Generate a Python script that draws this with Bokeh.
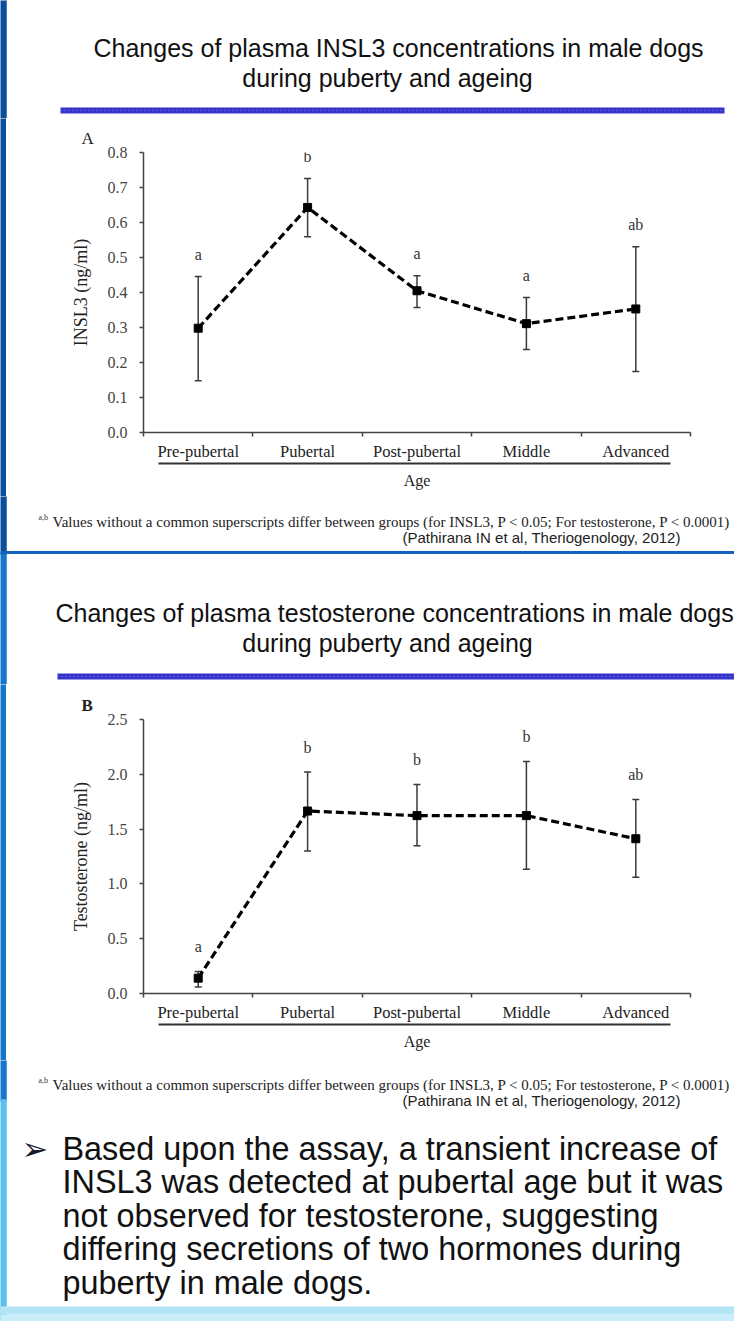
from bokeh.plotting import figure
from bokeh.models import (ColumnDataSource, Range1d, FixedTicker, LinearAxis, Whisker,
                          TeeHead, NumeralTickFormatter)
from bokeh.layouts import column, row
from bokeh.core.properties import value
from bokeh.embed import file_html
from bokeh.resources import INLINE

# ---------------- data ----------------
categories = ["Pre-pubertal", "Pubertal", "Post-pubertal", "Middle", "Advanced"]

insl3_mean = [0.298, 0.643, 0.405, 0.311, 0.353]
insl3_upper = [0.446, 0.726, 0.448, 0.386, 0.531]
insl3_lower = [0.148, 0.559, 0.357, 0.237, 0.174]
insl3_letters = ["a", "b", "a", "a", "ab"]
insl3_ticks = [0.0, 0.1, 0.2, 0.3, 0.4, 0.5, 0.6, 0.7, 0.8]

testo_mean = [0.14, 1.665, 1.623, 1.623, 1.412]
testo_upper = [0.20, 2.02, 1.906, 2.117, 1.769]
testo_lower = [0.06, 1.30, 1.348, 1.134, 1.061]
testo_letters = ["a", "b", "b", "b", "ab"]
testo_ticks = [0.0, 0.5, 1.0, 1.5, 2.0, 2.5]

title_a = ["Changes of plasma INSL3 concentrations in male dogs", "during puberty and ageing"]
title_b = ["Changes of plasma testosterone concentrations in male dogs", "during puberty and ageing"]
footnote = "Values without a common superscripts differ between groups (for INSL3, P < 0.05; For testosterone, P < 0.0001)"
citation = "(Pathirana IN et al, Theriogenology, 2012)"
bullet_lines = ["Based upon the assay, a transient increase of",
                "INSL3 was detected at pubertal age but it was",
                "not observed for testosterone, suggesting",
                "differing secretions of two hormones during",
                "puberty in male dogs."]

W = 734
STRIPE = 6
SERIF = "Liberation Serif"
SANS = "Liberation Sans"
# left decorative stripe of the slide: (page y from, page y to, colour)
stripe_parts = [(0, 553, "#0b4e9c"), (553, 1100, "#1576cb"),
                (1100, 1321, "#5cc0ee")]


def canvas(w, h, bg="white"):
    p = figure(width=w, height=h, x_range=Range1d(0, w), y_range=Range1d(h, 0),
               output_backend="svg", toolbar_location=None, min_border=0,
               x_axis_type=None, y_axis_type=None, frame_align=False)
    p.outline_line_color = None
    p.background_fill_color = bg
    p.border_fill_color = bg
    return p


def stripe(p, top):
    for y0, y1, c in stripe_parts:
        p.quad(left=[-1], right=[STRIPE], top=[y0 - top - 1], bottom=[y1 - top + 1],
               fill_color=c, line_color=c, line_width=0.5)


def txt(p, x, y, s, size, font=SANS, align="left", color="#111111", style="normal"):
    p.text(x=[x], y=[y], text=[s], text_font=value(font), text_font_size=value(f"{size}px"),
           text_align=align, text_baseline="middle", text_color=color, text_font_style=style)


def blue_bar(p, x0, x1, y0, y1):
    p.quad(left=[x0], right=[x1], top=[y0], bottom=[y1], fill_color="#3535cc", line_color=None)
    p.segment(x0=[x0], x1=[x1], y0=[(y0 + y1) / 2], y1=[(y0 + y1) / 2],
              line_color="#8080ea", line_width=1, line_dash="1 3")


def chart(height, btop, bbottom, mean, upper, lower, letters, yticks, ylabel, letter_off,
          panel, panel_style, panel_standoff):
    n = len(categories)
    xs = [i + 0.5 for i in range(n)]
    p = figure(width=W - STRIPE, height=height, x_range=Range1d(0, n),
               y_range=Range1d(yticks[0], yticks[-1]),
               output_backend="svg", toolbar_location=None, title=panel,
               min_border_left=143 - STRIPE, min_border_right=44,
               min_border_top=btop, min_border_bottom=bbottom,
               x_axis_type=None, y_axis_type=None, frame_align=False)
    p.outline_line_color = None
    p.title.align = "left"
    p.title.offset = -62
    p.title.standoff = panel_standoff
    p.title.text_font = SERIF
    p.title.text_font_size = "17px"
    p.title.text_font_style = panel_style
    p.title.text_color = "#222222"

    src = ColumnDataSource(dict(x=xs, mean=mean, upper=upper, lower=lower, letter=letters))
    p.add_layout(Whisker(source=src, base="x", upper="upper", lower="lower",
                         line_color="#3a3a3a", line_width=1.5,
                         upper_head=TeeHead(size=7, line_color="#3a3a3a", line_width=1.5),
                         lower_head=TeeHead(size=7, line_color="#3a3a3a", line_width=1.5)))
    p.line("x", "mean", source=src, line_color="black", line_width=3.2, line_dash="8 4")
    p.scatter("x", "mean", source=src, marker="square", size=8, color="black")
    p.text("x", "upper", text="letter", source=src, y_offset=letter_off,
           text_align="center", text_baseline="middle",
           text_font=value(SERIF), text_font_size=value("16px"), text_color="#333333")

    yax = LinearAxis(ticker=FixedTicker(ticks=yticks),
                     formatter=NumeralTickFormatter(format="0.0"),
                     axis_label=ylabel)
    yax.axis_line_color = "#444444"
    yax.axis_line_width = 1.5
    yax.major_tick_line_color = "#444444"
    yax.major_tick_line_width = 1.5
    yax.major_tick_out = 4
    yax.major_tick_in = 0
    yax.minor_tick_line_color = None
    yax.major_label_standoff = 12
    yax.major_label_text_font = SERIF
    yax.major_label_text_font_size = "16px"
    yax.major_label_text_color = "#444444"
    yax.axis_label_text_font = SERIF
    yax.axis_label_text_font_size = "18px"
    yax.axis_label_text_font_style = "normal"
    yax.axis_label_text_color = "#222222"
    yax.axis_label_standoff = 14
    p.add_layout(yax, "left")

    xax = LinearAxis(ticker=FixedTicker(ticks=xs, minor_ticks=list(range(n + 1))),
                     major_label_overrides={x: c for x, c in zip(xs, categories)})
    xax.axis_line_color = "#444444"
    xax.axis_line_width = 1.5
    xax.major_tick_line_color = None
    xax.major_tick_out = 0
    xax.major_tick_in = 0
    xax.minor_tick_line_color = "#444444"
    xax.minor_tick_line_width = 1.5
    xax.minor_tick_out = 4
    xax.minor_tick_in = 0
    xax.major_label_standoff = 5
    xax.major_label_text_font = SERIF
    xax.major_label_text_font_size = "16.5px"
    xax.major_label_text_color = "#222222"
    p.add_layout(xax, "below")

    uax = LinearAxis(ticker=FixedTicker(ticks=[]), bounds=(0.14, n - 0.18), axis_label="Age")
    uax.axis_line_color = "#333333"
    uax.axis_line_width = 2
    uax.major_tick_line_color = None
    uax.minor_tick_line_color = None
    uax.major_tick_out = 0
    uax.axis_label_standoff = 8
    uax.axis_label_text_font = SERIF
    uax.axis_label_text_font_size = "16px"
    uax.axis_label_text_font_style = "normal"
    uax.axis_label_text_color = "#222222"
    p.add_layout(uax, "below")
    return p


# ---------- header A (page y 0-118) ----------
h1 = canvas(W, 118)
stripe(h1, 0)
txt(h1, 398, 47, title_a[0], 25, align="center")
txt(h1, 387, 77, title_a[1], 25, align="center")
blue_bar(h1, 60, 724, 107, 113)

# ---------- chart A (page y 118-496) ----------
sa = canvas(STRIPE, 378, bg="#0b4e9c")
pa = chart(378, 34, 64, insl3_mean, insl3_upper, insl3_lower, insl3_letters,
           insl3_ticks, "INSL3 (ng/ml)", -22, "A", "normal", 9)

# ---------- middle block (page y 496-684) ----------
h2 = canvas(W, 188)
stripe(h2, 496)
txt(h2, 38, 21, "a,b", 8, font=SERIF, color="#333333")
txt(h2, 52, 25, footnote, 15, font=SERIF, color="#222222")
txt(h2, 402, 41, citation, 15, color="#222222")
h2.segment(x0=[0], x1=[W], y0=[56], y1=[56], line_color="#1462c0", line_width=3)
txt(h2, 55, 116, title_b[0], 25)
txt(h2, 387, 146, title_b[1], 25, align="center")
blue_bar(h2, 57, W, 177, 183)

# ---------- chart B (page y 684-1060) ----------
sb = canvas(STRIPE, 376, bg="#1576cb")
pb = chart(376, 35, 67, testo_mean, testo_upper, testo_lower, testo_letters,
           testo_ticks, "Testosterone (ng/ml)", -25, "B", "bold", 10)

# ---------- footer (page y 1060-1321) ----------
h3 = canvas(W, 261)
stripe(h3, 1060)
txt(h3, 38, 20, "a,b", 8, font=SERIF, color="#333333")
txt(h3, 52, 24, footnote, 15, font=SERIF, color="#222222")
txt(h3, 402, 40, citation, 15, color="#222222")
for i, line in enumerate(bullet_lines):
    txt(h3, 62, 88 + i * 33.5, line, 32.4, color="#111111")
txt(h3, 21, 88, "\u27a2", 32, font="DejaVu Sans", color="#1a1a2e")
h3.quad(left=[0], right=[W], top=[246], bottom=[254], fill_color="#b3e5f5", line_color=None)
h3.quad(left=[0], right=[W], top=[254], bottom=[261], fill_color="#c9edf9", line_color=None)

layout = column(h1, row(sa, pa, spacing=0), h2, row(sb, pb, spacing=0), h3, spacing=0)
open("out.html", "w").write(file_html(layout, INLINE))
